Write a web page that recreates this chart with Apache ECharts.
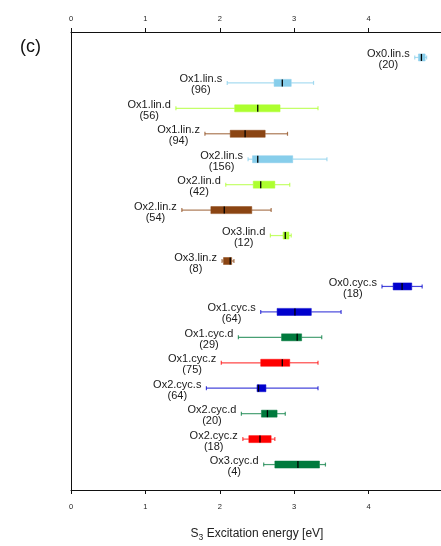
<!DOCTYPE html>
<html>
<head>
<meta charset="utf-8">
<script src="https://cdn.jsdelivr.net/npm/echarts@6/dist/echarts.min.js"></script>
<style>
  html, body { margin: 0; padding: 0; background: #fff; }
  #chart { width: 441px; height: 546px; }
</style>
</head>
<body>
<div id="chart"></div>
<script>
// S3 excitation energies per structure class: box-and-whisker summary
const names = ['Ox0.lin.s', 'Ox1.lin.s', 'Ox1.lin.d', 'Ox1.lin.z', 'Ox2.lin.s', 'Ox2.lin.d', 'Ox2.lin.z',
  'Ox3.lin.d', 'Ox3.lin.z', 'Ox0.cyc.s', 'Ox1.cyc.s', 'Ox1.cyc.d', 'Ox1.cyc.z', 'Ox2.cyc.s',
  'Ox2.cyc.d', 'Ox2.cyc.z', 'Ox3.cyc.d'];
const counts = [20, 96, 56, 94, 156, 42, 54, 12, 8, 18, 64, 29, 75, 64, 20, 18, 4];
const whiskerLow = [4.62, 2.10, 1.41, 1.80, 2.38, 2.08, 1.49, 2.68, 2.03, 4.18, 2.55, 2.25, 2.02, 1.82, 2.29, 2.31, 2.59];
const quartile1 = [4.67, 2.73, 2.20, 2.14, 2.44, 2.45, 1.88, 2.85, 2.05, 4.33, 2.77, 2.83, 2.55, 2.50, 2.56, 2.39, 2.74];
const medians = [4.71, 2.84, 2.51, 2.34, 2.51, 2.55, 2.06, 2.88, 2.14, 4.45, 3.01, 3.04, 2.84, 2.52, 2.64, 2.54, 3.05];
const quartile3 = [4.76, 2.96, 2.81, 2.61, 2.98, 2.74, 2.43, 2.93, 2.16, 4.58, 3.23, 3.10, 2.94, 2.62, 2.77, 2.69, 3.34];
const whiskerHigh = [4.78, 3.26, 3.32, 2.91, 3.44, 2.94, 2.69, 2.96, 2.19, 4.72, 3.63, 3.37, 3.32, 3.32, 2.88, 2.74, 3.42];
const xTicks = [0, 1, 2, 3, 4];

// colour by topology (lin/cyc) and substituent suffix
const palette = {
  'lin.s': '#87ceeb', 'lin.d': '#adff2f', 'lin.z': '#8b4513',
  'cyc.s': '#0000cd', 'cyc.d': '#007a3d', 'cyc.z': '#ff0000'
};
function colorOf(name) { return palette[name.slice(name.indexOf('.') + 1)]; }
function rgba(hex, a) {
  const n = parseInt(hex.slice(1), 16);
  return 'rgba(' + (n >> 16) + ',' + ((n >> 8) & 255) + ',' + (n & 255) + ',' + a + ')';
}

const LABEL_FONT = '11px "Liberation Sans", Arial, sans-serif';
const measureCtx = document.createElement('canvas').getContext('2d');
measureCtx.font = LABEL_FONT;

const rows = names.map((n, i) => [i + 1, whiskerLow[i], quartile1[i], medians[i], quartile3[i], whiskerHigh[i]]);

function renderBox(params, api) {
  const i = params.dataIndex;
  const row = api.value(0);
  const pLo = api.coord([api.value(1), row]);
  const pQ1 = api.coord([api.value(2), row]);
  const pMed = api.coord([api.value(3), row]);
  const pQ3 = api.coord([api.value(4), row]);
  const pHi = api.coord([api.value(5), row]);
  const cy = pLo[1];
  const c = colorOf(names[i]);
  const wc = rgba(c, 0.72);
  const h = 7;
  const nameW = measureCtx.measureText(names[i]).width;
  const labelCx = pLo[0] - 5 - nameW / 2;
  const wStyle = { stroke: wc, lineWidth: 1.2 };
  return {
    type: 'group',
    children: [
      { type: 'line', shape: { x1: pLo[0], y1: cy, x2: pQ1[0], y2: cy }, style: wStyle },
      { type: 'line', shape: { x1: pQ3[0], y1: cy, x2: pHi[0], y2: cy }, style: wStyle },
      { type: 'line', shape: { x1: pLo[0], y1: cy - 2, x2: pLo[0], y2: cy + 2 }, style: wStyle },
      { type: 'line', shape: { x1: pHi[0], y1: cy - 2, x2: pHi[0], y2: cy + 2 }, style: wStyle },
      { type: 'rect', shape: { x: pQ1[0], y: cy - h / 2, width: pQ3[0] - pQ1[0], height: h },
        style: { fill: c, stroke: rgba(c, 0.5), lineWidth: 1 } },
      { type: 'line', shape: { x1: pMed[0], y1: cy - h / 2, x2: pMed[0], y2: cy + h / 2 },
        style: { stroke: '#000', lineWidth: 1.3 } },
      { type: 'text', style: { text: names[i], x: labelCx, y: cy - 3.5, align: 'center', verticalAlign: 'middle',
        font: LABEL_FONT, fill: '#1a1a1a' } },
      { type: 'text', style: { text: '(' + counts[i] + ')', x: labelCx, y: cy + 7.5, align: 'center', verticalAlign: 'middle',
        font: LABEL_FONT, fill: '#1a1a1a' } }
    ]
  };
}

const axisCommon = {
  type: 'value', min: 0, max: 5, interval: 1,
  axisLine: { show: true, onZero: false, lineStyle: { color: '#111', width: 1 } },
  axisTick: { show: true, length: 4, lineStyle: { color: '#111' } },
  splitLine: { show: false },
  axisLabel: {
    fontSize: 7.5, color: '#222', fontFamily: '"Liberation Sans", Arial, sans-serif',
    formatter: v => (xTicks.indexOf(v) >= 0 ? String(v) : '')
  }
};

const chart = echarts.init(document.getElementById('chart'), null, { renderer: 'canvas' });
chart.setOption({
  animation: false,
  backgroundColor: '#fff',
  grid: { left: 71, right: -2, top: 32, bottom: 56, containLabel: false, outerBoundsMode: 'none' },
  xAxis: [
    Object.assign({}, axisCommon, {
      position: 'bottom',
      axisLabel: Object.assign({}, axisCommon.axisLabel, { margin: 13 }),
      name: '{s|S}{sub|3}{s| Excitation energy [eV]}',
      nameLocation: 'middle', nameGap: 37,
      nameTextStyle: {
        rich: {
          s: { fontSize: 12, color: '#222', fontFamily: '"Liberation Sans", Arial, sans-serif', lineHeight: 14 },
          sub: { fontSize: 8.5, color: '#222', fontFamily: '"Liberation Sans", Arial, sans-serif', lineHeight: 14, padding: [7, 0, 0, 0] }
        }
      }
    }),
    Object.assign({}, axisCommon, {
      position: 'top',
      axisLabel: Object.assign({}, axisCommon.axisLabel, { margin: 9 })
    })
  ],
  yAxis: {
    type: 'value', min: 0, max: 18, inverse: true,
    axisLine: { show: true, onZero: false, lineStyle: { color: '#111', width: 1 } },
    axisTick: { show: false }, axisLabel: { show: false }, splitLine: { show: false }
  },
  graphic: [{
    type: 'text', left: 20, top: 38,
    style: { text: '(c)', font: '18px "Liberation Sans", Arial, sans-serif', fill: '#111' }
  }],
  series: [{
    type: 'custom',
    xAxisIndex: 0,
    renderItem: renderBox,
    encode: { x: [1, 2, 3, 4, 5], y: 0 },
    data: rows,
    clip: false
  }]
});
</script>
</body>
</html>
